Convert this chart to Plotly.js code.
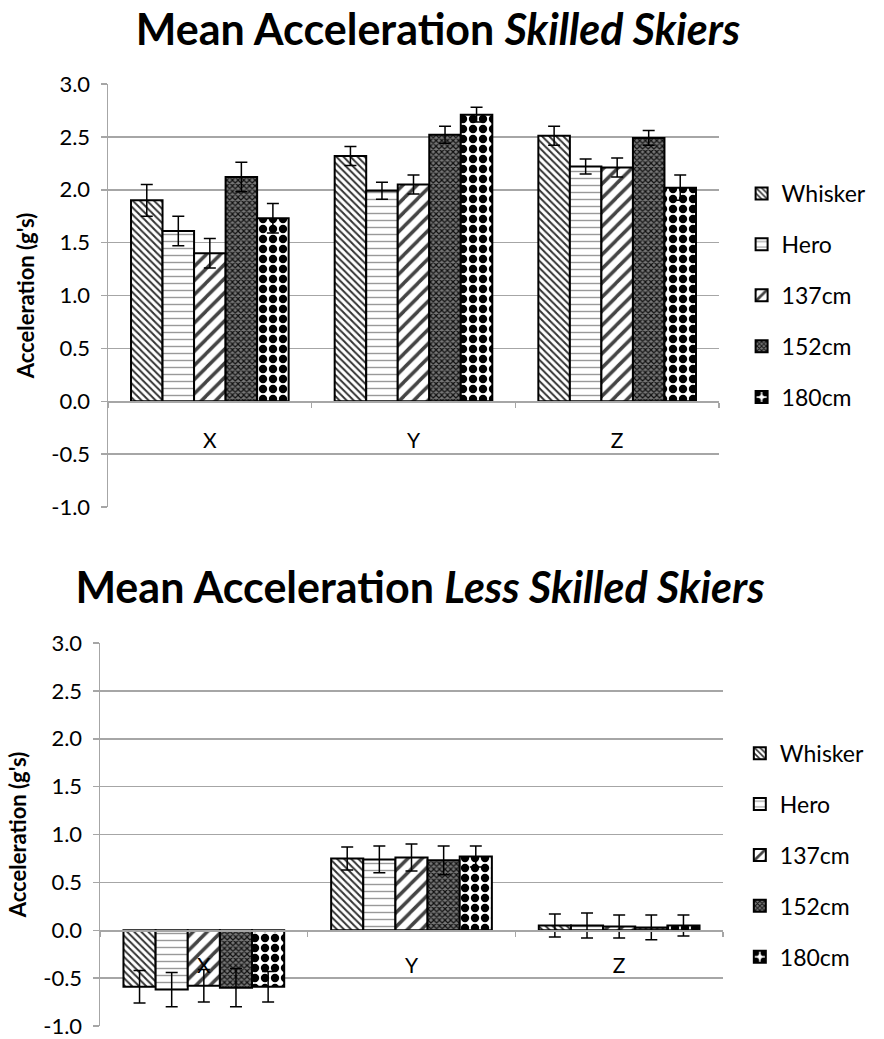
<!DOCTYPE html>
<html>
<head>
<meta charset="utf-8">
<script src="https://cdn.plot.ly/plotly-3.0.1.min.js"></script>
<style>
  html, body { margin: 0; padding: 0; background: #fff; }
  #top { width: 884px; height: 540px; }
  #bot { width: 884px; height: 499px; }
</style>
</head>
<body>
<div id="top"></div>
<div id="bot"></div>
<script>
// ---- data ----
const categories = ['X', 'Y', 'Z'];
const seriesNames = ['Whisker', 'Hero', '137cm', '152cm', '180cm'];

// Skilled skiers: mean acceleration (g's) per series over X, Y, Z
const skilledWhisker = [1.90, 2.32, 2.51];
const skilledHero    = [1.61, 1.99, 2.22];
const skilled137     = [1.40, 2.05, 2.21];
const skilled152     = [2.12, 2.52, 2.49];
const skilled180     = [1.73, 2.71, 2.02];
const skilledErrWhisker = [0.15, 0.09, 0.09];
const skilledErrHero    = [0.14, 0.08, 0.07];
const skilledErr137     = [0.14, 0.09, 0.09];
const skilledErr152     = [0.14, 0.08, 0.07];
const skilledErr180     = [0.14, 0.07, 0.12];

// Less skilled skiers
const lessWhisker = [-0.59, 0.75, 0.05];
const lessHero    = [-0.62, 0.74, 0.05];
const less137     = [-0.58, 0.76, 0.04];
const less152     = [-0.60, 0.73, 0.03];
const less180     = [-0.59, 0.77, 0.05];
const lessErrWhisker = [0.17, 0.12, 0.12];
const lessErrHero    = [0.18, 0.14, 0.13];
const lessErr137     = [0.17, 0.14, 0.12];
const lessErr152     = [0.20, 0.15, 0.13];
const lessErr180     = [0.16, 0.11, 0.11];

const yTickVals = [-1.0, -0.5, 0.0, 0.5, 1.0, 1.5, 2.0, 2.5, 3.0];
const yTickText = ['-1.0', '-0.5', '0.0', '0.5', '1.0', '1.5', '2.0', '2.5', '3.0'];

// ---- styles ----
const FONT = 'Lato, "Open Sans", "DejaVu Sans", sans-serif';
const GRID = '#a6a6a6';
const patterns = [
  {shape: '\\', fgcolor: '#333', bgcolor: '#fff', size: 5, solidity: 0.4},
  {shape: '-',  fgcolor: '#999', bgcolor: '#fff', size: 7, solidity: 0.2},
  {shape: '/',  fgcolor: '#444', bgcolor: '#fff', size: 10, solidity: 0.35},
  {shape: 'x',  fgcolor: '#111', bgcolor: '#777', size: 4, solidity: 0.5},
  {shape: '.',  fgcolor: '#000', bgcolor: '#fff', size: 10, solidity: 0.55}
];

function makeTraces(vals, errs) {
  return seriesNames.map((nm, i) => ({
    type: 'bar',
    name: nm,
    x: categories,
    y: vals[i],
    legendgroup: 'g' + i,
    marker: {
      color: patterns[i].fgcolor,
      pattern: Object.assign({fillmode: 'replace'}, patterns[i]),
      line: {color: '#000', width: 2}
    },
    error_y: {type: 'data', array: errs[i], symmetric: true, visible: true,
              color: '#000', thickness: 1.5, width: 6}
  }));
}

function makeLayout(titleText, titleX, titleY, legendX, legendY, xStandoff, margin, height) {
  return {
    width: 884, height: height,
    margin: margin,
    paper_bgcolor: '#fff', plot_bgcolor: '#fff',
    font: {family: FONT, color: '#000'},
    title: {
      text: titleText, xref: 'container', yref: 'container',
      x: titleX, xanchor: 'center', y: titleY, yanchor: 'middle',
      font: {family: FONT, size: 43, weight: 700, color: '#000'}
    },
    barmode: 'group', bargap: 0.226, bargroupgap: 0,
    showlegend: true,
    legend: {
      x: legendX, xanchor: 'left', y: legendY, yanchor: 'middle',
      font: {family: FONT, size: 23, color: '#000'},
      traceorder: 'grouped', tracegroupgap: 18,
      bgcolor: 'rgba(0,0,0,0)', itemwidth: 30
    },
    xaxis: {
      type: 'category',
      anchor: 'free', position: 0.25,
      showline: true, linecolor: GRID, linewidth: 1.5,
      ticks: 'outside', tickson: 'boundaries', ticklen: 5, tickcolor: GRID, tickwidth: 1.5,
      showgrid: false, zeroline: false,
      tickfont: {family: FONT, size: 21, color: '#000'},
      ticklabelstandoff: xStandoff,
      automargin: false, fixedrange: true
    },
    yaxis: {
      range: [-1, 3], tickvals: yTickVals, ticktext: yTickText,
      showline: true, linecolor: GRID, linewidth: 1.5,
      ticks: 'outside', ticklen: 6, tickcolor: GRID, tickwidth: 1.5,
      showgrid: true, gridcolor: GRID, gridwidth: 1.5,
      zeroline: false,
      tickfont: {family: FONT, size: 22, color: '#000'},
      ticklabelstandoff: 6,
      title: {text: "Acceleration (g's)", standoff: 10,
              font: {family: FONT, size: 22, weight: 700, color: '#000'}},
      automargin: false, fixedrange: true
    }
  };
}

const topTraces = makeTraces(
  [skilledWhisker, skilledHero, skilled137, skilled152, skilled180],
  [skilledErrWhisker, skilledErrHero, skilledErr137, skilledErr152, skilledErr180]);
const botTraces = makeTraces(
  [lessWhisker, lessHero, less137, less152, less180],
  [lessErrWhisker, lessErrHero, lessErr137, lessErr152, lessErr180]);

Plotly.newPlot('top', topTraces,
  makeLayout('Mean Acceleration <i>Skilled Skiers</i>', 438 / 884, 1 - 30 / 540,
             1.037, 0.5, 20,
             {l: 108, r: 153, t: 84, b: 33}, 540),
  {staticPlot: true});
Plotly.newPlot('bot', botTraces,
  makeLayout('Mean Acceleration <i>Less Skilled Skiers</i>', 420 / 884, 1 - 48 / 499,
             1.027, 0.446, 16,
             {l: 100, r: 161, t: 103, b: 13}, 499),
  {staticPlot: true});
</script>
</body>
</html>
